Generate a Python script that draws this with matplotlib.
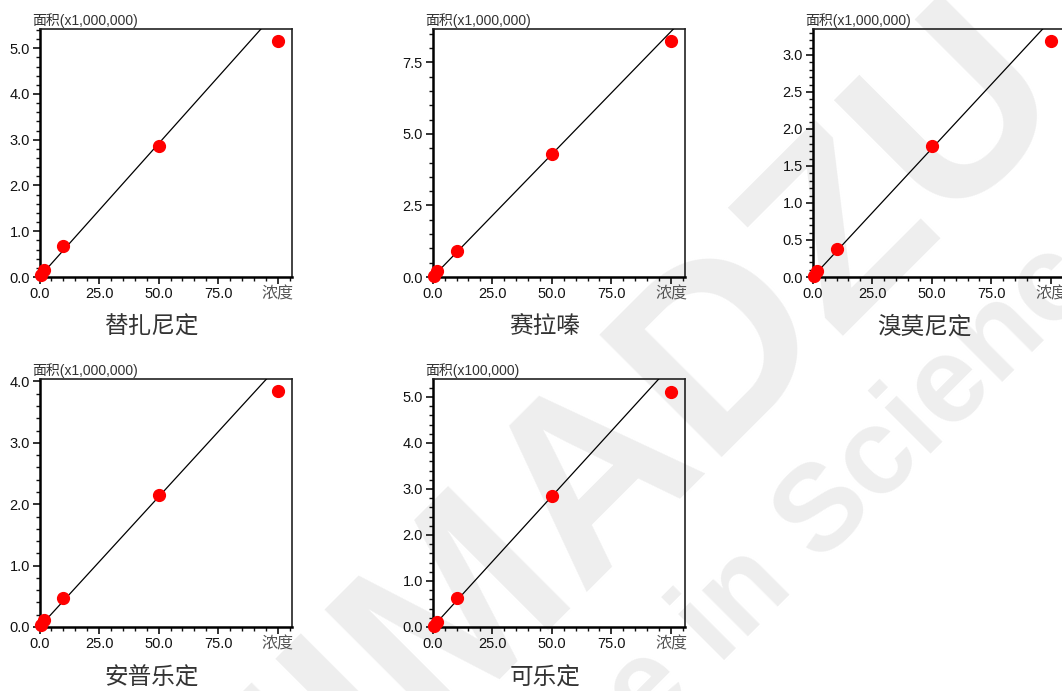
import numpy as np
import matplotlib.pyplot as plt
from matplotlib.ticker import MultipleLocator, FixedLocator, FormatStrFormatter

plt.rcParams['font.family'] = ['Liberation Sans', 'Noto Sans CJK SC']

# concentrations of the calibration standards
conc = [0.5, 2, 10, 50, 100]

names = ['替扎尼定', '赛拉嗪', '溴莫尼定', '安普乐定', '可乐定']
area_tizanidine = [0.04, 0.16, 0.67, 2.87, 5.15]
area_xylazine = [0.05, 0.20, 0.90, 4.30, 8.25]
area_brimonidine = [0.02, 0.077, 0.384, 1.77, 3.185]
area_apraclonidine = [0.04, 0.12, 0.48, 2.15, 3.85]
area_clonidine = [0.03, 0.115, 0.62, 2.84, 5.11]
areas = [area_tizanidine, area_xylazine, area_brimonidine, area_apraclonidine, area_clonidine]

# calibration line slopes (through origin)
slopes = [0.0583, 0.0858, 0.0347, 0.0424, 0.0568]
units = ['(x1,000,000)', '(x1,000,000)', '(x1,000,000)', '(x1,000,000)', '(x100,000)']
ymax = [5.42, 8.67, 3.35, 4.04, 5.39]
ymajor = [1.0, 2.5, 0.5, 1.0, 1.0]
yminor = [0.2, 0.5, 0.1, 0.2, 0.2]
xticks = [0, 25, 50, 75, 100]
xticklabels = ['0.0', '25.0', '50.0', '75.0', '浓度']

W, H = 1062, 691
fig = plt.figure(figsize=(W / 100, H / 100), dpi=100)

# watermark
fig.text(560 / W, 1 - 520 / H, 'SHIMADZU', rotation=45, fontsize=180, weight='bold',
         color='#eeeeee', ha='center', va='center', zorder=-10, family='Liberation Sans')
fig.text(675 / W, 1 - 665 / H, 'Excellence in Science', rotation=45, fontsize=88, weight='bold',
         color='#eeeeee', ha='center', va='center', zorder=-10, family='Liberation Sans')

boxes = [(39.5, 29), (432.7, 29), (812.7, 29), (39.5, 379), (432.7, 379)]
aw, ah = 252.5, 248
title_y = [327, 327, 327, 678, 678]

for i in range(5):
    l, t = boxes[i]
    ax = fig.add_axes([l / W, 1 - (t + ah) / H, aw / W, ah / H])
    ax.set_facecolor('none')
    xs = np.array([0, 110])
    ax.plot(xs, xs * slopes[i], color='black', lw=0.9, zorder=3)
    ax.plot(conc, areas[i], 'o', color='#ff0000', ms=8.5, clip_on=False, zorder=5)
    ax.set_xlim(0, 106)
    ax.set_ylim(0, ymax[i])

    ax.xaxis.set_major_locator(FixedLocator(xticks))
    ax.set_xticklabels(xticklabels)
    ax.xaxis.set_minor_locator(MultipleLocator(5))
    ax.yaxis.set_major_locator(MultipleLocator(ymajor[i]))
    ax.yaxis.set_minor_locator(MultipleLocator(yminor[i]))
    ax.yaxis.set_major_formatter(FormatStrFormatter('%.1f'))

    ax.tick_params(which='major', direction='out', length=5, width=1.2, labelsize=10.5,
                   pad=2, colors='#111111')
    ax.tick_params(which='minor', direction='out', length=3, width=1.0, colors='#111111')
    lab = ax.get_xticklabels()[-1]
    lab.set_color('#555555')
    lab.set_fontsize(11.5)

    for s in ['left', 'bottom']:
        ax.spines[s].set_linewidth(1.8)
    for s in ['top', 'right']:
        ax.spines[s].set_linewidth(1.2)
        ax.spines[s].set_color('#222222')

    ax.text(-0.03, 1.016, '面积' + units[i], transform=ax.transAxes, ha='left',
            va='baseline', fontsize=10, color='#333333')

    fig.text((l + aw / 2 - 14) / W, 1 - title_y[i] / H, names[i], fontsize=17,
             color='#333333', ha='center', va='center')

fig.savefig('out.png', dpi=100)
